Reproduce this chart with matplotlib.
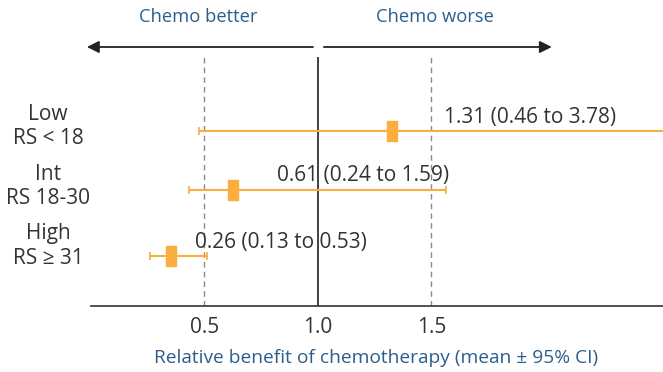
import matplotlib
matplotlib.use("Agg")
import matplotlib.pyplot as plt
import matplotlib.transforms as mtransforms

plt.rcParams['font.family'] = ['Open Sans', 'DejaVu Sans']

groups = ["Low\nRS < 18", "Int\nRS 18-30", "High\nRS \u2265 31"]
means = [1.326, 0.626, 0.351]
lower = [0.476, 0.432, 0.26]
upper = [2.60, 1.564, 0.511]
labels = ["1.31 (0.46 to 3.78)", "0.61 (0.24 to 1.59)", "0.26 (0.13 to 0.53)"]
rows = [2.8, 1.86, 0.8]
label_x = [1.555, 0.819, 0.458]
group_y = [2.872, 1.912, 0.96]

orange = "#F9AE3F"
blue = "#2B5E8C"
dark = "#333333"

fig = plt.figure(figsize=(6.63, 3.72), dpi=100)
ax = fig.add_axes([91 / 663, 1 - 306 / 372, 1 - 91 / 663, 249 / 372])
ax.set_xlim(0, 2.52)
ax.set_ylim(0, 3.98)

ax.axvline(1.0, color=dark, lw=1.3, zorder=1)
for xv in [0.5, 1.5]:
    ax.axvline(xv, color="#8a8a8a", lw=1, ls=(0, (4, 3)), zorder=1)

box = [(-1, -2), (1, -2), (1, 2), (-1, 2), (-1, -2)]
for m, lo, hi, y, lab, lx in zip(means, lower, upper, rows, labels, label_x):
    ax.errorbar([m], [y], xerr=[[m - lo], [hi - m]], fmt="none",
                ecolor=orange, elinewidth=1.5, capsize=3, capthick=1.2, zorder=2)
    ax.plot([m], [y], marker=box, markersize=15, color=orange, mec=orange,
            ls="none", zorder=3)
    ax.text(lx, y + 0.22, lab, fontsize=15, color=dark, ha="left",
            va="center")

# group labels on the left
trans = mtransforms.blended_transform_factory(ax.transAxes, ax.transData)
for g, gy in zip(groups, group_y):
    ax.text(-0.075, gy, g, transform=trans, fontsize=15, color=dark,
            ha="center", va="center", linespacing=1.2, multialignment="center",
            clip_on=False)
ax.set_yticks([])

ax.set_xticks([0.5, 1.0, 1.5])
ax.set_xticklabels(["0.5", "1.0", "1.5"], fontsize=15, color=dark)
ax.tick_params(axis="x", length=0, pad=8)

for s in ["top", "right", "left"]:
    ax.spines[s].set_visible(False)
ax.spines["bottom"].set_color(dark)
ax.spines["bottom"].set_linewidth(1.2)

ax.set_xlabel("Relative benefit of chemotherapy (mean \u00b1 95% CI)",
              fontsize=13.8, color=blue)
ax.xaxis.set_label_coords((376 - 91) / 572, -0.21)
ax.xaxis.label.set_va("center")

ay = 4.14
ax.annotate("", xy=(-0.018, ay), xytext=(0.978, ay), annotation_clip=False,
            arrowprops=dict(arrowstyle="-|>", color="#222222", lw=1.3,
                            mutation_scale=18, shrinkA=0, shrinkB=0))
ax.annotate("", xy=(2.03, ay), xytext=(1.026, ay), annotation_clip=False,
            arrowprops=dict(arrowstyle="-|>", color="#222222", lw=1.3,
                            mutation_scale=18, shrinkA=0, shrinkB=0))
ax.text(0.471, 4.62, "Chemo better", fontsize=13.2, color=blue, ha="center",
        va="center", clip_on=False)
ax.text(1.515, 4.62, "Chemo worse", fontsize=13.2, color=blue, ha="center",
        va="center", clip_on=False)

fig.savefig("out.png", dpi=100)
